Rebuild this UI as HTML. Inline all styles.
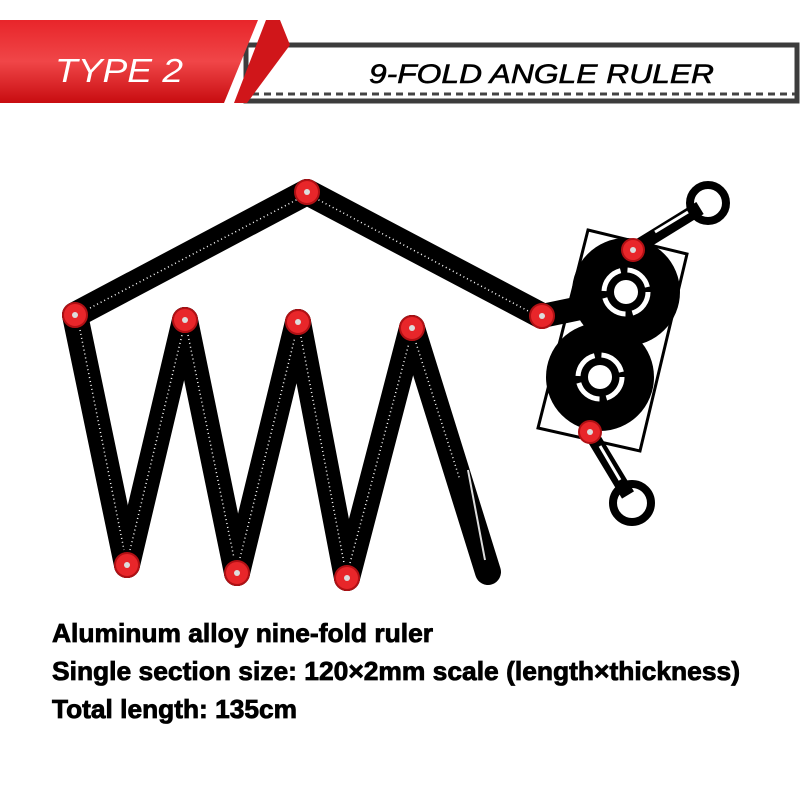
<!DOCTYPE html>
<html><head><meta charset="utf-8"><style>html,body{margin:0;padding:0;background:#fff;}svg{display:block}</style></head>
<body>
<svg width="800" height="800" viewBox="0 0 800 800" xmlns="http://www.w3.org/2000/svg">
<defs>
<linearGradient id="rg" x1="0" y1="0" x2="0" y2="1">
<stop offset="0" stop-color="#e8252a"/><stop offset="0.5" stop-color="#f04648"/><stop offset="1" stop-color="#c80c10"/>
</linearGradient>
</defs>
<rect width="800" height="800" fill="#fff"/>
<!-- header -->
<rect x="246" y="45" width="551" height="56" fill="#fff" stroke="#3c3c3c" stroke-width="5"/>
<line x1="252" y1="94" x2="795" y2="94" stroke="#444" stroke-width="3" stroke-dasharray="7,5"/>
<polygon points="0,20 258,20 224,103 0,103" fill="url(#rg)"/>
<polygon points="266,20 280,20 290,45 247,103 234,103" fill="#d0161a"/>
<text x="55" y="82" font-family="Liberation Sans, sans-serif" font-size="33" font-style="italic" fill="#fff" textLength="128" lengthAdjust="spacingAndGlyphs">TYPE 2</text>
<text x="369" y="83" font-family="Liberation Sans, sans-serif" font-size="27" font-style="italic" fill="#000" stroke="#000" stroke-width="0.6" textLength="345" lengthAdjust="spacingAndGlyphs">9-FOLD ANGLE RULER</text>

<!-- plate -->
<g fill="none" stroke="#000">
<line x1="640" y1="245" x2="700" y2="208" stroke-width="14"/>
<line x1="590" y1="432" x2="628" y2="495" stroke-width="14"/>
<circle cx="708" cy="203" r="18" stroke-width="8"/>
<circle cx="632" cy="503" r="19" stroke-width="8"/>
<polygon points="588,230 687,254 640,451 538,428" stroke-width="3"/>
<line x1="542" y1="316" x2="590" y2="306" stroke-width="24"/>
</g>
<circle cx="626" cy="292" r="54" fill="#000"/>
<circle cx="600" cy="377" r="54" fill="#000"/>
<g fill="none" stroke="#fff" stroke-width="5">
<circle cx="626" cy="292" r="22" stroke-dasharray="28,7"/>
<circle cx="600" cy="377" r="22" stroke-dasharray="28,7"/>
</g>
<circle cx="626" cy="292" r="12" fill="#fff"/>
<circle cx="600" cy="377" r="12" fill="#fff"/>
<line x1="655" y1="232" x2="688" y2="212" stroke="#fff" stroke-width="3"/>
<line x1="600" y1="446" x2="620" y2="480" stroke="#fff" stroke-width="3"/>

<!-- arms -->
<g stroke="#000" stroke-width="26" stroke-linecap="round" fill="none">
<line x1="75" y1="315" x2="307" y2="192"/>
<line x1="307" y1="192" x2="542" y2="316"/>
<line x1="75" y1="315" x2="127" y2="565"/>
<line x1="127" y1="565" x2="185" y2="320"/>
<line x1="185" y1="320" x2="237" y2="573"/>
<line x1="237" y1="573" x2="298" y2="322"/>
<line x1="298" y1="322" x2="347" y2="578"/>
<line x1="347" y1="578" x2="412" y2="328"/>
<line x1="412" y1="328" x2="488" y2="572"/>
</g>
<g stroke="#fff" stroke-width="1.5" fill="none" stroke-dasharray="1,3">
<line x1="90" y1="308" x2="300" y2="198"/>
<line x1="315" y1="198" x2="530" y2="312"/>
<line x1="80" y1="330" x2="124" y2="550"/>
<line x1="130" y1="550" x2="182" y2="335"/>
<line x1="188" y1="335" x2="234" y2="558"/>
<line x1="240" y1="558" x2="295" y2="337"/>
<line x1="301" y1="337" x2="344" y2="563"/>
<line x1="350" y1="563" x2="409" y2="343"/>
<line x1="416" y1="343" x2="460" y2="480"/>
</g>
<line x1="468" y1="470" x2="485" y2="560" stroke="#ddd" stroke-width="2"/>
<!-- knobs -->
<g fill="#e8262a" stroke="#b01014" stroke-width="2">
<circle cx="307" cy="192" r="12"/><circle cx="75" cy="315" r="12"/><circle cx="185" cy="320" r="12"/>
<circle cx="298" cy="322" r="12"/><circle cx="412" cy="328" r="12"/><circle cx="542" cy="316" r="12"/>
<circle cx="633" cy="250" r="11"/><circle cx="590" cy="432" r="11"/><circle cx="127" cy="565" r="12"/>
<circle cx="237" cy="573" r="12"/><circle cx="347" cy="578" r="12"/>
</g>
<g fill="#ddd">
<circle cx="307" cy="192" r="3"/><circle cx="75" cy="315" r="3"/><circle cx="185" cy="320" r="3"/>
<circle cx="298" cy="322" r="3"/><circle cx="412" cy="328" r="3"/><circle cx="542" cy="316" r="3"/>
<circle cx="633" cy="250" r="3"/><circle cx="590" cy="432" r="3"/><circle cx="127" cy="565" r="3"/>
<circle cx="237" cy="573" r="3"/><circle cx="347" cy="578" r="3"/>
</g>
<!-- text -->
<g font-family="Liberation Sans, sans-serif" font-weight="bold" font-size="26" fill="#000" stroke="#000" stroke-width="0.8">
<text x="52" y="642" textLength="381" lengthAdjust="spacingAndGlyphs">Aluminum alloy nine-fold ruler</text>
<text x="52" y="680" textLength="688" lengthAdjust="spacingAndGlyphs">Single section size: 120×2mm scale (length×thickness)</text>
<text x="52" y="718" textLength="245" lengthAdjust="spacingAndGlyphs">Total length: 135cm</text>
</g>
</svg>
</body></html>
